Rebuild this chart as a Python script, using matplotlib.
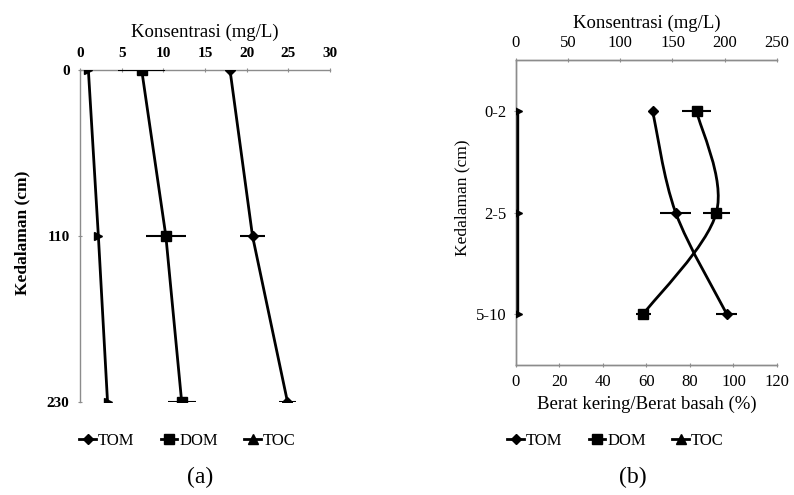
import matplotlib
matplotlib.use("Agg")
import matplotlib.pyplot as plt
from matplotlib.lines import Line2D
from matplotlib.path import Path
from matplotlib.patches import PathPatch

plt.rcParams['font.family'] = ['Liberation Serif', 'DejaVu Serif']

# panel (a): depth categories and concentrations (mg/L)
depth_a = ["0", "110", "230"]
tom_a = [18.0, 20.7, 24.9]
tom_a_err = [0.0, 1.45, 1.0]
dom_a = [7.4, 10.3, 12.2]
dom_a_err = [2.8, 2.4, 1.7]
toc_a = [1.0, 2.2, 3.3]
xticks_a = [0, 5, 10, 15, 20, 25, 30]

# panel (b): depth categories, values on the top scale (mg/L)
depth_b = ["0-2", "2-5", "5-10"]
tom_b = [131, 153, 202]
tom_b_err = [0, 15, 10]
dom_b = [173, 192, 122]
dom_b_err = [14, 12.6, 7]
toc_b = [2, 2, 2]
xticks_b_top = [0, 50, 100, 150, 200, 250]
xticks_b_bot = [0, 20, 40, 60, 80, 100, 120]

GREY = '#8c8c8c'


def smooth_path(ax, xs, ys, **kw):
    # Excel style smoothed line: catmull-rom segments as bezier curves
    pts = list(zip(xs, ys))
    verts = [pts[0]]
    codes = [Path.MOVETO]
    for i in range(len(pts) - 1):
        p0 = pts[i - 1] if i > 0 else pts[i]
        p1 = pts[i]
        p2 = pts[i + 1]
        p3 = pts[i + 2] if i + 2 < len(pts) else pts[i + 1]
        c1 = (p1[0] + (p2[0] - p0[0]) / 6, p1[1] + (p2[1] - p0[1]) / 6)
        c2 = (p2[0] - (p3[0] - p1[0]) / 6, p2[1] - (p3[1] - p1[1]) / 6)
        verts += [c1, c2, p2]
        codes += [Path.CURVE4] * 3
    ax.add_patch(PathPatch(Path(verts, codes), fill=False, **kw))


fig = plt.figure(figsize=(7.94, 4.95), dpi=100)

# ---------- (a)
ax = fig.add_axes([0.1008, 0.188, 0.3148, 0.6706])
ya = list(range(len(depth_a)))
ax.plot(toc_a, ya, color='k', lw=2, marker='>', ms=6, zorder=3)
ax.errorbar(dom_a, ya, xerr=dom_a_err, color='k', lw=2, marker='s', ms=7,
            elinewidth=1.5, capsize=0, zorder=3)
ax.errorbar(tom_a, ya, xerr=tom_a_err, color='k', lw=2, marker='D', ms=5,
            elinewidth=1.5, capsize=0, zorder=3)
ax.set_xlim(0, 30)
ax.set_ylim(2, 0)
ax.set_xticks(xticks_a)
ax.set_yticks(ya)
ax.set_yticklabels(depth_a)
ax.xaxis.tick_top()
ax.xaxis.set_label_position('top')
for side in ['right', 'bottom']:
    ax.spines[side].set_visible(False)
for side in ['left', 'top']:
    ax.spines[side].set_color(GREY)
    ax.spines[side].set_linewidth(1)
ax.tick_params(axis='both', color=GREY, length=3, width=0.8, direction='inout',
               labelsize=11, pad=6)
for t in ax.get_xticklabels() + ax.get_yticklabels():
    t.set_fontweight('bold')
ax.set_xlabel("Konsentrasi (mg/L)", fontsize=13.5, labelpad=7)
fig.text(0.028, 0.53, "Kedalaman (cm)", rotation=90, ha='center', va='center',
         fontsize=12.5, fontweight='bold')

# ---------- (b)
bx = fig.add_axes([0.6495, 0.2626, 0.3291, 0.6162])
bx2 = bx.twiny()   # top axis (mg/L), bx keeps the bottom axis (%)
yb = list(range(len(depth_b)))
smooth_path(bx2, toc_b, yb, color='k', lw=2, zorder=3)
smooth_path(bx2, tom_b, yb, color='k', lw=2, zorder=3)
smooth_path(bx2, dom_b, yb, color='k', lw=2, zorder=3)
bx2.plot(toc_b, yb, ls='none', color='k', marker='>', ms=6, zorder=4)
bx2.errorbar(tom_b, yb, xerr=tom_b_err, ls='none', color='k', marker='D', ms=5,
             elinewidth=1.5, capsize=0, zorder=4)
bx2.errorbar(dom_b, yb, xerr=dom_b_err, ls='none', color='k', marker='s', ms=7,
             elinewidth=1.5, capsize=0, zorder=4)
bx2.set_xlim(0, 250)
bx2.set_xticks(xticks_b_top)
bx.set_ylim(2.5, -0.5)
bx.set_yticks(yb)
bx.set_yticklabels(depth_b)
bx.set_xlim(0, 120)
bx.set_xticks(xticks_b_bot)
for a in [bx, bx2]:
    a.spines['right'].set_visible(False)
    for side in ['left', 'top', 'bottom']:
        a.spines[side].set_color(GREY)
        a.spines[side].set_linewidth(1)
    a.tick_params(axis='both', color=GREY, length=3, width=0.8, direction='inout',
                  labelsize=12, pad=5)
bx2.set_xlabel("Konsentrasi (mg/L)", fontsize=13.5, labelpad=5)
bx.set_xlabel("Berat kering/Berat basah (%)", fontsize=13.5, labelpad=4)
fig.text(0.582, 0.60, "Kedalaman (cm)", rotation=90, ha='center', va='center',
         fontsize=12.5)

# ---------- legends
handles = [
    Line2D([], [], color='k', lw=2, marker='D', ms=5, label='TOM'),
    Line2D([], [], color='k', lw=2, marker='s', ms=7, label='DOM'),
    Line2D([], [], color='k', lw=2, marker='^', ms=7, label='TOC'),
]
for cx in [0.236, 0.775]:
    fig.legend(handles=handles, loc='center', bbox_to_anchor=(cx, 0.11), ncol=3,
               frameon=False, fontsize=12, handlelength=1.0, handletextpad=0.1,
               columnspacing=1.6)

fig.text(0.252, 0.035, "(a)", ha='center', va='center', fontsize=17)
fig.text(0.797, 0.035, "(b)", ha='center', va='center', fontsize=17)

fig.savefig("out.png", dpi=100)
